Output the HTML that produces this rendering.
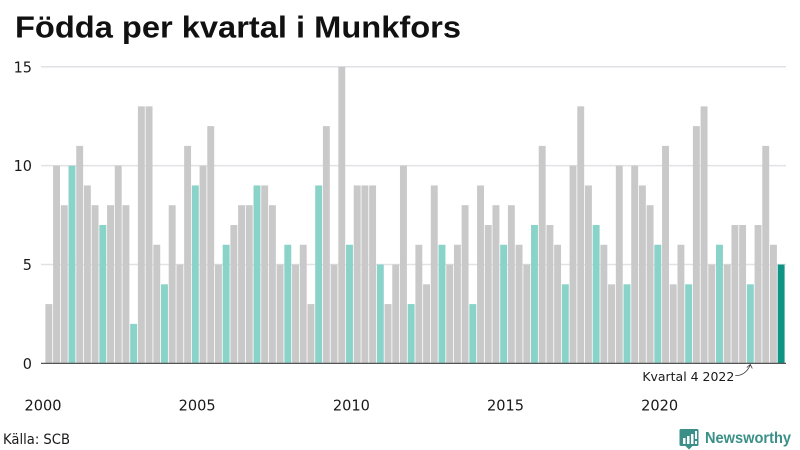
<!DOCTYPE html>
<html lang="sv">
<head>
<meta charset="utf-8">
<title>Födda per kvartal i Munkfors</title>
<style>
html,body{margin:0;padding:0;background:#fff;}
svg{display:block;}
text{font-family:"DejaVu Sans","Liberation Sans",sans-serif;fill:#1a1a1a;}
.lib{font-family:"Liberation Sans","DejaVu Sans",sans-serif;}
</style>
</head>
<body>
<svg id="chart" xmlns="http://www.w3.org/2000/svg" width="800" height="450" viewBox="0 0 800 450">
  <rect width="800" height="450" fill="#ffffff"/>
  <text class="lib" x="15" y="37.500" font-size="31" font-weight="700" textLength="446" lengthAdjust="spacingAndGlyphs" style="fill:#111">Födda per kvartal i Munkfors</text>
  <g id="grid"></g>
  <g id="bars"></g>
  <g id="axis"></g>
  <g id="note"></g>
  <text x="3" y="444" font-size="14.500" textLength="67" lengthAdjust="spacingAndGlyphs">Källa: SCB</text>
  <g>
    <path d="M681 429h16a1.500 1.500 0 0 1 1.500 1.500v14a1.500 1.500 0 0 1-1.500 1.500h-4.500l-3.500 3.500-3.500-3.500h-4.500a1.500 1.500 0 0 1-1.500-1.500v-14a1.500 1.500 0 0 1 1.500-1.500z" fill="#3a8f88"/>
    <rect x="683" y="438" width="2.500" height="6" fill="#fff"/>
    <rect x="687" y="436" width="2.500" height="8" fill="#fff"/>
    <rect x="691" y="434" width="2.500" height="10" fill="#fff"/>
    <rect x="695" y="431" width="2" height="8" fill="#fff"/>
    <rect x="695" y="441" width="2" height="3" fill="#fff"/>
    <text class="lib" x="705" y="443" font-size="16" font-weight="700" textLength="86" lengthAdjust="spacingAndGlyphs" style="fill:#3a8f88">Newsworthy</text>
  </g>
</svg>
<script>
const years = [2000,2001,2002,2003,2004,2005,2006,2007,2008,2009,2010,2011,2012,2013,2014,2015,2016,2017,2018,2019,2020,2021,2022,2023];
const quarters = [1,2,3,4];
const births = [
  3,10,8,10, 11,9,8,7, 8,10,8,2, 13,13,6,4,
  8,5,11,9, 10,12,5,6, 7,8,8,9, 9,8,5,6,
  5,6,3,9, 12,5,15,6, 9,9,9,5, 3,5,10,3,
  6,4,9,6, 5,6,8,3, 9,7,8,6, 8,6,5,7,
  11,7,6,4, 10,13,9,7, 6,4,10,4, 10,9,8,6,
  11,4,6,4, 12,13,5,6, 5,7,7,4, 7,11,6,5
];
const yTicks = [0,5,10,15];
const xTickYears = [2000,2005,2010,2015,2020];
const annotationYear = 2022;
const annotationQuarter = 4;
const annotationLabel = "Kvartal 4 2022";

const NS = "http://www.w3.org/2000/svg";
const categories = [];
years.forEach(function (y) {
  quarters.forEach(function (q) {
    categories.push({ year: y, quarter: q });
  });
});
const plotLeft = 45, plotRight = 785, plotBottom = 363.4, plotTop = 66.8, yMax = 15;
const step = (plotRight - plotLeft) / categories.length;
function xScale(i) { return plotLeft + i * step; }
function yScale(v) { return plotBottom - (v / yMax) * (plotBottom - plotTop); }
function make(parent, tag, attrs, txt) {
  const el = document.createElementNS(NS, tag);
  Object.keys(attrs).forEach(function (k) { el.setAttribute(k, attrs[k]); });
  if (txt !== undefined) el.textContent = txt;
  parent.appendChild(el);
  return el;
}
const gridG = document.getElementById("grid");
const barsG = document.getElementById("bars");
const axisG = document.getElementById("axis");
const noteG = document.getElementById("note");

yTicks.forEach(function (t) {
  if (t !== 0) {
    const line = make(gridG, "line", { x1: 41, x2: 786, y1: yScale(t), y2: yScale(t), stroke: "#e2e1e6", "stroke-width": 1.5 });
    
    
  }
  const str = String(t);
  const label = make(axisG, "text", { x: 32, y: yScale(t) + 5.5, "text-anchor": "end", "font-size": 15.5, textLength: 9.2 * str.length, lengthAdjust: "spacingAndGlyphs" }, str);
  
  
});

categories.forEach(function (c, i) {
  const last = i === categories.length - 1;
  const fill = last ? "#0f9384" : (c.quarter === 4 ? "#89d3c9" : "#c9c9c9");
  const bar = make(barsG, "rect", { x: xScale(i) + 0.4, y: yScale(births[i]), width: step - 0.8, height: plotBottom - yScale(births[i]), fill: fill });
  
  
});

const baseline = make(axisG, "line", { x1: 41, x2: 786, y1: plotBottom, y2: plotBottom, stroke: "#555555", "stroke-width": 1.2 });



xTickYears.forEach(function (y) {
  const idx = categories.findIndex(function (c) { return c.year === y && c.quarter === 1; });
  const label = make(axisG, "text", { x: xScale(idx) - 2, y: 410.5, "text-anchor": "middle", "font-size": 15.5, textLength: 37, lengthAdjust: "spacingAndGlyphs" }, String(y));
  
  
});

const noteIdx = categories.findIndex(function (c) { return c.year === annotationYear && c.quarter === annotationQuarter; });
const ax = xScale(noteIdx) + step / 2;
const noteText = make(noteG, "text", { x: ax - 108, y: 381, "font-size": 12.5, textLength: 92, lengthAdjust: "spacingAndGlyphs" }, annotationLabel);


const curve = make(noteG, "path", { d: "M" + (ax - 15) + " 375.500Q" + (ax - 5) + " 376 " + ax + " 365", fill: "none", stroke: "#333", "stroke-width": 0.8 });


const head = make(noteG, "path", { d: "M" + (ax - 3.500) + " 367.500L" + ax + " 364.500L" + (ax + 2) + " 368.500", fill: "none", stroke: "#333", "stroke-width": 0.8 });


</script>
</body>
</html>
